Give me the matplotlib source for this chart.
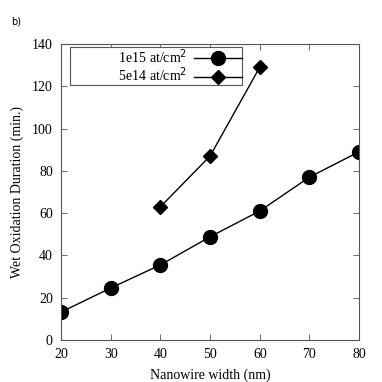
import matplotlib
matplotlib.use('Agg')
import matplotlib.pyplot as plt

width_a = [20, 30, 40, 50, 60, 70, 80]
duration_a = [13.2, 24.6, 35.5, 48.8, 61, 77, 89]
width_b = [40, 50, 60]
duration_b = [63, 87, 129]

plt.rcParams['font.family'] = 'Liberation Serif'
plt.rcParams['font.size'] = 10

fig = plt.figure(figsize=(3.82, 3.82), dpi=100)
ax = fig.add_axes([0.16, 0.11, 0.78, 0.775])

pad = ' ' * 14
ax.plot(width_a, duration_a, color='black', lw=1, marker='o', ms=10, label=pad + '1e15 at/cm$^2$')
ax.plot(width_b, duration_b, color='black', lw=1, marker='D', ms=7, label=pad + '5e14 at/cm$^2$')

ax.set_xlim(20, 80)
ax.set_ylim(0, 140)
ax.set_xticks(range(20, 81, 10))
ax.set_yticks(range(0, 141, 20))
ax.tick_params(direction='in', top=True, right=True, length=4, width=0.6,
               color='#555555', pad=6)
for s in ax.spines.values():
    s.set_linewidth(0.8)
    s.set_color('#555555')

ax.set_xlabel('Nanowire width (nm)', labelpad=5)
ax.set_ylabel('Wet Oxidation Duration (min.)', labelpad=6)

leg = ax.legend(loc='upper left', markerfirst=False, handlelength=3.4, fancybox=False,
                edgecolor='#555555', framealpha=1, borderpad=0.02, labelspacing=0.0,
                handletextpad=0.5, borderaxespad=0, bbox_to_anchor=(0.03, 0.99))
leg.get_frame().set_linewidth(0.8)

fig.text(0.03, 0.935, 'b)', family='DejaVu Sans', fontsize=7)

fig.savefig('out.png', dpi=100)
